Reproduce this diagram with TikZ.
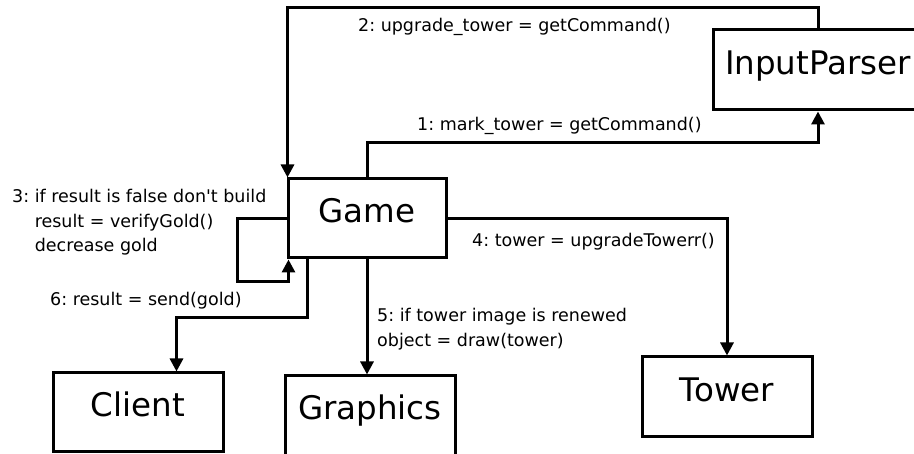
\documentclass[tikz,border=0pt]{standalone}
\usepackage{fontspec}
\setmainfont{DejaVu Sans}[Ligatures=TeXOff]
\usetikzlibrary{arrows.meta}
\frenchspacing
\begin{document}
\begin{tikzpicture}[x=1pt,y=-1pt,
  box/.style={draw, line width=3pt, inner sep=0pt, align=center,
    font=\fontsize{32.5}{39}\selectfont, text height=44pt, text depth=35pt},
  conn/.style={line width=3pt, -{Triangle[length=13pt,width=13pt]}},
  lbl/.style={inner sep=0pt, anchor=base west, align=left,
    font=\fontsize{17.5}{24.5}\selectfont\frenchspacing}]
\fill[white] (0,0) rectangle (914,454);
\useasboundingbox (0,0) rectangle (914,454);

\node[box, text width=158pt, anchor=base] (game) at (367,223) {Game};
\node[box, text width=210pt, anchor=base, text height=45pt] (ip) at (818,75) {InputParser};
\node[box, text width=170pt, anchor=base] (client) at (138,417) {Client};
\node[box, text width=170pt, anchor=base, text depth=42pt] (graphics) at (370,420) {Graphics};
\node[box, text width=170pt, anchor=base, text height=45pt] (tower) at (727,402) {Tower};

% 1
\draw[conn] (game.north) -- ++(0,-35) -| (ip.south);
% 2
\draw[conn] (ip.north) -- ++(0,-21) -| ([xshift=1pt]game.north west);
% 3 self loop
\draw[conn] (game.west) -- ++(-49,0) -- ++(0,63) -| ([xshift=2pt]game.south west);
% 4
\draw[conn] (game.east) -| (tower.north);
% 5
\draw[conn] (game.south) -- (game.south |- graphics.north);
% 6
\draw[conn] ([xshift=21pt]game.south west) -- ++(0,58) -| ([xshift=125pt]client.north west);

\node[lbl] (l2) at (358,32) {2: upgrade\_tower = getCommand()};
\node[lbl] (l1) at (417,131) {1: mark\_tower = getCommand()};
\node[lbl] (l3) at (12,252) {3: if result is false don't build\\\hphantom{3:}\ result = verifyGold()\\\hphantom{3:}\ decrease gold};
\node[lbl] (l4) at (472,247) {4: tower = upgradeTowerr()};
\node[lbl, font=\fontsize{17.5}{25}\selectfont\frenchspacing] (l5) at (377,347) {5: if tower image is renewed\\object = draw(tower)};
\node[lbl] (l6) at (50,306) {6: result = send(gold)};
\end{tikzpicture}
\end{document}
